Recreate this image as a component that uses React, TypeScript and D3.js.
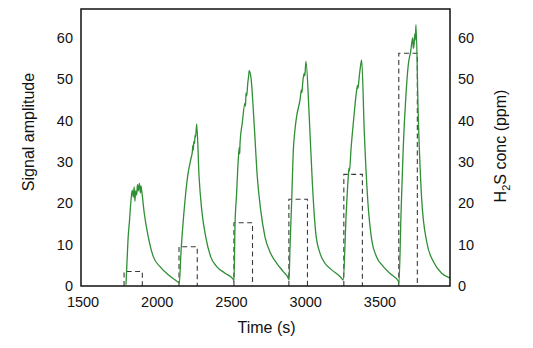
import React, { useRef, useEffect } from "react";
import * as d3 from "d3";

// signal trace, one array per exposure cycle: [time (s), amplitude]
const pulse1 = [
  [1803, 0.3], [1810, 6], [1818, 12], [1826, 15.5], [1835, 20], [1845, 23.2],
  [1852, 21.5], [1858, 24], [1863, 20.5], [1868, 23], [1875, 22], [1880, 24.5],
  [1886, 23], [1893, 24.8], [1900, 22.5], [1904, 24.2], [1909, 23],
  [1926, 17.6], [1953, 11.9], [1987, 7.1], [2032, 4.7], [2088, 2.7], [2155, 0.9],
];
const pulse2 = [
  [2162, 0.7], [2173, 7.9], [2189, 16], [2196, 19], [2200, 20.5], [2205, 22.4],
  [2218, 26.5], [2241, 30.9], [2250, 32.5], [2253, 34], [2256, 32.8], [2260, 35],
  [2265, 34.5], [2268, 36.5], [2272, 36], [2279, 39.2],
  [2295, 26.5], [2313, 18.4], [2340, 11.9], [2373, 7.1], [2414, 4.7], [2470, 3.1], [2526, 1.6],
];
const pulse3 = [
  [2530, 1.0], [2537, 14.4], [2548, 22.4], [2559, 30.5], [2566, 33.5], [2569, 32],
  [2571, 34.6], [2586, 39.4], [2604, 44.2], [2608, 43.5], [2611, 46.7], [2616, 46],
  [2623, 49], [2628, 50.5], [2633, 52.1], [2645, 50.3],
  [2667, 38.6], [2687, 26.5], [2710, 18.4], [2739, 11.9], [2777, 7.9], [2818, 5.5], [2862, 3.5], [2896, 1.9],
];
const pulse4 = [
  [2901, 1.45], [2907, 8.7], [2919, 20.8], [2930, 32.9], [2941, 37.8], [2952, 41],
  [2975, 45], [2985, 47.5], [2988, 46.8], [2993, 49.1], [3003, 51.5], [3007, 50.8], [3015, 54.3],
  [3037, 41], [3058, 24.9], [3081, 12.8], [3110, 7.9], [3143, 5.5], [3188, 3.9], [3244, 2.3], [3266, 1.45],
];
const pulse5 = [
  [3285, 16.8], [3300, 26.5], [3305, 28.5], [3308, 27.8], [3318, 32.9], [3338, 41],
  [3357, 47.5], [3362, 48.5], [3365, 47.8], [3374, 50.7], [3380, 52.5], [3390, 54.7],
  [3408, 37], [3431, 20.8], [3458, 11.1], [3490, 7.1], [3536, 4.7], [3592, 2.7], [3637, 1.2],
];
const pulse6 = [
  [3641, 0.65], [3655, 17.2], [3670, 33.3], [3687, 45.4], [3704, 53.5], [3720, 56.7],
  [3734, 60], [3738, 57.5], [3743, 58.4], [3748, 61], [3751, 59.5], [3756, 63.2],
  [3771, 41.4], [3794, 21.2], [3828, 10.7], [3873, 5.9], [3929, 3.1], [3985, 1.9],
];

// H2S exposure steps (dashed)
const gasOn = [1790, 2160, 2530, 2900, 3270, 3640];
const gasOff = [1913, 2283, 2655, 3025, 3395, 3765];
const gasConc = [3.5, 9.5, 15.3, 21, 27, 56.3];

const xTicks = [1500, 2000, 2500, 3000, 3500];
const yTicks = [0, 10, 20, 30, 40, 50, 60];

const App = () => {
  const svgRef = useRef(null);

  useEffect(() => {
    const svg = d3.select(svgRef.current);
    svg.selectAll("*").remove();

    const margin = { top: 9, right: 83, bottom: 62, left: 81 };
    const W = 533;
    const H = 348;
    const width = W - margin.left - margin.right;
    const height = H - margin.top - margin.bottom;
    const font = "Liberation Sans, Arial, sans-serif";

    const x = d3.scaleLinear().domain([1500, 3985]).range([0, width]);
    const y = d3.scaleLinear().domain([0, 67]).range([height, 0]);

    const g = svg
      .append("g")
      .attr("transform", `translate(${margin.left},${margin.top})`);

    // gas steps
    const steps = gasOn.map((t, i) => ({ on: t, off: gasOff[i], c: gasConc[i] }));
    g.selectAll(".step")
      .data(steps)
      .enter()
      .append("path")
      .attr("class", "step")
      .attr("d", (d) => `M${x(d.on)},${y(0)}V${y(d.c)}H${x(d.off)}V${y(0)}`)
      .attr("fill", "none")
      .attr("stroke", "#3a3a3a")
      .attr("stroke-width", 1.1)
      .attr("stroke-dasharray", "5,3.5");

    // signal
    const signal = [...pulse1, ...pulse2, ...pulse3, ...pulse4, ...pulse5, ...pulse6];
    const line = d3
      .line()
      .x((d) => x(d[0]))
      .y((d) => y(d[1]))
      .curve(d3.curveMonotoneX);
    g.append("path")
      .datum(signal)
      .attr("d", line)
      .attr("fill", "none")
      .attr("stroke", "#2f8f35")
      .attr("stroke-width", 1.3)
      .attr("stroke-linejoin", "round");

    // frame
    g.append("rect")
      .attr("x", 0)
      .attr("y", 0)
      .attr("width", width)
      .attr("height", height)
      .attr("fill", "none")
      .attr("stroke", "#111")
      .attr("stroke-width", 1.5);

    // x tick labels
    g.selectAll(".xt")
      .data(xTicks)
      .enter()
      .append("text")
      .attr("x", (d) => x(d) + 2)
      .attr("y", height + 21)
      .attr("text-anchor", "middle")
      .attr("font-family", font)
      .attr("font-size", 14.5)
      .attr("fill", "#111")
      .text((d) => d);

    // left y tick labels
    g.selectAll(".yl")
      .data(yTicks)
      .enter()
      .append("text")
      .attr("x", -8)
      .attr("y", (d) => y(d) + 5)
      .attr("text-anchor", "end")
      .attr("font-family", font)
      .attr("font-size", 14.5)
      .attr("fill", "#111")
      .text((d) => d);

    // right y tick labels
    g.selectAll(".yr")
      .data(yTicks)
      .enter()
      .append("text")
      .attr("x", width + 8)
      .attr("y", (d) => y(d) + 5)
      .attr("text-anchor", "start")
      .attr("font-family", font)
      .attr("font-size", 14.5)
      .attr("fill", "#111")
      .text((d) => d);

    // axis titles
    g.append("text")
      .attr("x", width / 2 + 1)
      .attr("y", height + 47)
      .attr("text-anchor", "middle")
      .attr("font-family", font)
      .attr("font-size", 16)
      .attr("fill", "#111")
      .text("Time (s)");

    g.append("text")
      .attr("transform", `translate(${34 - margin.left},${132 - margin.top}) rotate(-90)`)
      .attr("text-anchor", "middle")
      .attr("font-family", font)
      .attr("font-size", 16)
      .attr("fill", "#111")
      .text("Signal amplitude");

    const rt = g
      .append("text")
      .attr("transform", `translate(${506 - margin.left},${146 - margin.top}) rotate(-90)`)
      .attr("text-anchor", "middle")
      .attr("font-family", font)
      .attr("font-size", 16)
      .attr("fill", "#111");
    rt.append("tspan").text("H");
    rt.append("tspan").attr("font-size", 11).attr("dy", 4).text("2");
    rt.append("tspan").attr("dy", -4).text("S conc (ppm)");
  }, []);

  return (
    <svg
      ref={svgRef}
      width={533}
      height={348}
      style={{ position: "absolute", left: 0, top: 0, background: "#fff" }}
    ></svg>
  );
};

export default App;
